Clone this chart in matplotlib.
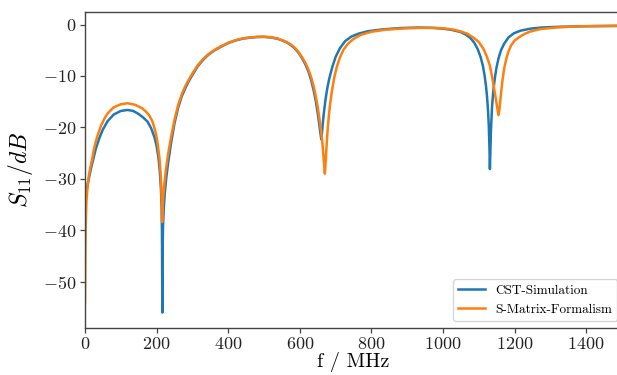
import matplotlib
matplotlib.use("Agg")
import matplotlib.pyplot as plt

# ---- data ----
f_cst = [0, 4, 8, 12, 16, 21.5, 30, 40, 50, 63,
         80, 100, 119, 135, 150, 163, 175, 185, 194, 200,
         205, 209, 212, 214, 215, 216, 217, 218,
         220, 223, 227, 232, 240, 250, 260, 270, 280, 290,
         300, 315, 330, 345, 360, 380, 400, 420, 440, 460,
         480, 500, 520, 540, 560, 572, 583, 595, 606, 616,
         625, 632, 639, 645, 650, 654, 657, 660, 662, 664,
         667, 672, 677, 683, 691, 700, 712, 727, 745, 765,
         790, 830, 880, 930, 970, 1000, 1025, 1049, 1065, 1077,
         1088, 1097, 1105, 1111, 1116, 1120, 1123, 1126, 1128, 1130,
         1131, 1132, 1134, 1137, 1140, 1144, 1149, 1155, 1162, 1171,
         1183, 1198, 1216, 1244, 1280, 1330, 1400, 1500]
s11_cst = [-34.0, -32.5, -30.9, -29.5, -28.2, -26.6, -24.2, -22.1, -20.4, -18.8,
           -17.5, -16.8, -16.6, -16.8, -17.4, -18.1, -18.9, -20.2, -21.9, -23.6,
           -25.8, -28.6, -31.8, -35.5, -40.5, -56.0, -43.0, -39.0,
           -35.8, -32.7, -29.8, -27.0, -23.2, -19.2, -16.2, -14.0, -12.4, -11.0,
           -9.8, -8.1, -6.85, -5.85, -5.1, -4.3, -3.6, -3.1, -2.75, -2.55,
           -2.43, -2.4, -2.52, -2.8, -3.35, -3.85, -4.45, -5.35, -6.5, -7.8,
           -9.3, -10.9, -12.9, -15.0, -17.2, -19.2, -20.8, -22.3, -21.0, -19.4,
           -17.3, -14.5, -12.3, -10.3, -8.2, -6.3, -4.6, -3.2, -2.3, -1.75,
           -1.3, -0.95, -0.68, -0.58, -0.64, -0.8, -1.05, -1.45, -2.0, -2.65,
           -3.6, -4.8, -6.3, -7.9, -9.8, -11.9, -14.0, -17.0, -19.8, -24.5,
           -28.1, -25.5, -20.5, -16.0, -13.3, -10.8, -8.5, -6.6, -5.0, -3.7,
           -2.5, -1.7, -1.2, -0.8, -0.55, -0.42, -0.33, -0.27]

f_smat = [0, 1, 2, 4, 7, 10, 14, 18.8, 25, 30,
          35.6, 45, 55, 63, 80, 100, 119, 140, 160, 170,
          180, 188, 194, 198.6, 203, 208, 211, 213, 214.5, 215.5,
          217, 219, 222, 226, 232, 240, 250, 260, 270, 280, 290,
          300, 315, 330, 345, 360, 380, 400, 420, 440, 460,
          480, 500, 520, 540, 560, 572, 583, 595, 606, 616,
          625, 632, 639, 645, 650, 655, 660, 663, 666, 668,
          670, 672, 674, 677, 681, 685, 690, 696, 703, 712,
          722, 735, 750, 770, 800, 840, 890, 940, 980, 1000,
          1030, 1050, 1067, 1085, 1100, 1112, 1123, 1131, 1137, 1142,
          1147, 1151, 1155, 1158, 1162, 1166, 1171, 1177, 1183, 1190,
          1200, 1216, 1230, 1244, 1270, 1310, 1360, 1420, 1500]
s11_smat = [-54.0, -44.0, -39.0, -34.5, -31.5, -29.8, -28.1, -26.6, -24.2, -22.8,
            -21.5, -19.6, -18.2, -17.3, -16.1, -15.5, -15.3, -15.6, -16.3, -16.9,
            -17.7, -18.8, -20.1, -21.4, -23.2, -26.0, -28.7, -31.4, -34.6, -38.4,
            -35.5, -33.3, -30.8, -28.2, -25.3, -22.0, -18.5, -15.7, -13.6, -12.0, -10.7,
            -9.5, -7.9, -6.7, -5.75, -5.0, -4.2, -3.55, -3.05, -2.7, -2.5,
            -2.38, -2.35, -2.47, -2.75, -3.3, -3.75, -4.3, -5.2, -6.3, -7.5,
            -8.9, -10.3, -12.1, -14.1, -16.0, -18.4, -21.0, -23.0, -25.5, -27.3,
            -29.0, -27.0, -24.5, -21.2, -17.8, -15.3, -12.8, -10.4, -8.3, -6.4,
            -4.9, -3.7, -2.8, -2.0, -1.4, -1.0, -0.75, -0.64, -0.66, -0.72,
            -1.0, -1.35, -1.75, -2.55, -3.4, -4.6, -6.3, -8.0, -10.1, -12.1,
            -14.2, -16.0, -17.6, -16.3, -13.4, -10.9, -8.5, -6.6, -5.2, -4.1,
            -3.1, -2.3, -1.75, -1.35, -0.9, -0.6, -0.4, -0.28, -0.2]

labels = ["CST-Simulation", "S-Matrix-Formalism"]
x_label = "f / MHz"
y_label = r"$S_{11}/dB$"

plt.rcParams["font.family"] = "serif"
plt.rcParams["font.serif"] = ["cmr10"]
plt.rcParams["mathtext.fontset"] = "cm"
plt.rcParams["axes.formatter.use_mathtext"] = True
plt.rcParams["axes.unicode_minus"] = True

fig = plt.figure(figsize=(6.17, 3.75), dpi=100)
ax = fig.add_axes([85 / 617, 1 - 328 / 375, 537 / 617, (328 - 11.7) / 375])

ax.plot(f_cst, s11_cst, color="#1f77b4", lw=1.8, label=labels[0])
ax.plot(f_smat, s11_smat, color="#ff7f0e", lw=1.8, label=labels[1])

ax.set_xlim(0, 1500)
ax.set_ylim(-59.0, 2.5)
ax.set_xticks([0, 200, 400, 600, 800, 1000, 1200, 1400])
ax.set_yticks([0, -10, -20, -30, -40, -50])

for s in ax.spines.values():
    s.set_color("#444444")
    s.set_linewidth(1.0)
ax.tick_params(axis="both", direction="out", length=3.5, width=0.9, pad=2.5,
               color="#444444", labelsize=13, labelcolor="#222222")

ax.set_xlabel(x_label, fontsize=14.5, labelpad=0)
ax.set_ylabel(y_label, fontsize=17, labelpad=6)

leg = ax.legend(loc="lower left", bbox_to_anchor=(453 / 617, 1 - 321 / 375),
                bbox_transform=fig.transFigure, borderaxespad=0,
                fontsize=9.5, frameon=True)

fig.savefig("out.png", dpi=100)
